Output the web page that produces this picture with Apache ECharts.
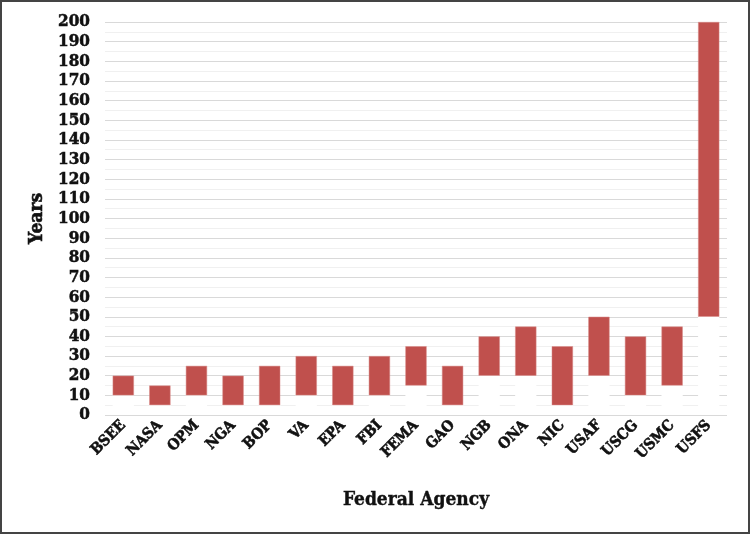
<!DOCTYPE html>
<html>
<head>
<meta charset="utf-8">
<script src="https://cdn.jsdelivr.net/npm/echarts@6/dist/echarts.min.js"></script>
<style>
  html, body { margin: 0; padding: 0; background: #fff; }
  #main { width: 746px; height: 530px; border: 2px solid #444; }
</style>
</head>
<body>
<div id="main"></div>
<script>
/* agency ranges (years) */
var agencies = ['BSEE','NASA','OPM','NGA','BOP','VA','EPA','FBI','FEMA','GAO','NGB','ONA','NIC','USAF','USCG','USMC','USFS'];
var lowYears  = [10, 5, 10, 5, 5, 10, 5, 10, 15, 5, 20, 20, 5, 20, 10, 15, 50];
var highYears = [20, 15, 25, 20, 25, 30, 25, 30, 35, 25, 40, 45, 35, 50, 40, 45, 200];

var spans = [];
for (var i = 0; i < agencies.length; i++) {
  spans.push(highYears[i] - lowYears[i]);
}

var fontFam = '"DejaVu Serif Condensed", "DejaVu Serif", serif';

var myChart = echarts.init(document.getElementById('main'));
var option = {
  animation: false,
  grid: { left: 103, right: 21, top: 20, bottom: 117 },
  xAxis: {
    type: 'category',
    data: agencies,
    name: 'Federal Agency',
    nameLocation: 'middle',
    nameGap: 76,
    nameTextStyle: { fontFamily: fontFam, fontSize: 19, fontWeight: 'bold', color: '#111',
      textBorderColor: '#111', textBorderWidth: 0.4 },
    axisLine: { show: false },
    axisTick: { show: false },
    axisLabel: {
      rotate: 45, interval: 0, margin: 8,
      fontFamily: fontFam, fontSize: 15, fontWeight: 'bold', color: '#111',
      textBorderColor: '#111', textBorderWidth: 0.6
    }
  },
  yAxis: {
    type: 'value',
    min: 0, max: 200, interval: 10,
    name: 'Years',
    nameLocation: 'middle',
    nameGap: 55,
    nameTextStyle: { fontFamily: fontFam, fontSize: 19, fontWeight: 'bold', color: '#111',
      textBorderColor: '#111', textBorderWidth: 0.6 },
    axisLine: { show: false },
    axisTick: { show: false },
    axisLabel: { fontFamily: fontFam, fontSize: 17, fontWeight: 'bold', color: '#111', margin: 15,
      textBorderColor: '#111', textBorderWidth: 0.5 },
    splitLine: { lineStyle: { color: '#d9d9d9', width: 1 } },
    minorTick: { show: false, splitNumber: 2 },
    minorSplitLine: { show: true, lineStyle: { color: '#f0f0f0', width: 1 } }
  },
  series: [
    {
      name: 'base',
      type: 'bar',
      stack: 'range',
      data: lowYears,
      barWidth: '58%',
      itemStyle: { color: '#ffffff' },
      silent: true
    },
    {
      name: 'span',
      type: 'bar',
      stack: 'range',
      data: spans,
      barWidth: '58%',
      itemStyle: { color: '#c0504d', borderColor: '#d98a88', borderWidth: 0.5 }
    }
  ]
};
myChart.setOption(option);
</script>
</body>
</html>
